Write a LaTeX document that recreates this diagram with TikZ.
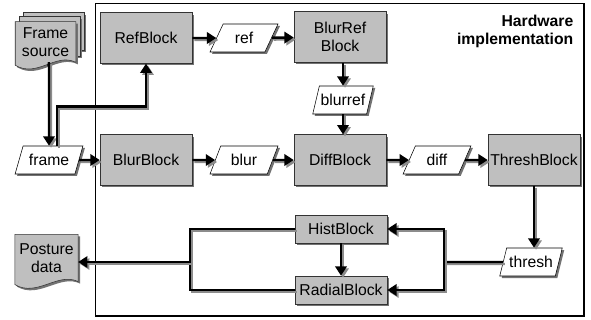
\documentclass[tikz,border=0pt]{standalone}
\usepackage{fontspec}
\setmainfont{Liberation Sans}
\usetikzlibrary{shapes.geometric, arrows.meta, shadows, backgrounds, calc}

\tikzset{
    shade/.style={drop shadow={shadow xshift=1.5pt, shadow yshift=-1.5pt, fill=black!55, opacity=1}},
    block/.style={draw=black!80, fill=black!25, shade, minimum width=69pt,
        inner sep=1pt, align=center, font=\fontsize{11.8}{13.5}\selectfont},
    data/.style={trapezium, trapezium left angle=65, trapezium right angle=115,
        trapezium stretches=true, draw=black, fill=white, shade,
        minimum width=51pt, minimum height=21pt, inner sep=1pt,
        font=\fontsize{11.8}{13.5}\selectfont},
    doc/.style={minimum width=45pt, inner sep=0pt, align=center,
        font=\fontsize{11.8}{13.5}\selectfont},
    page/.style={draw=black!80, fill=black!25, shade},
    wire/.style={line width=1.8pt,
        preaction={draw=black!45, line width=1.6pt, transform canvas={shift={(1.5pt,-1.5pt)}}}},
    flow/.style={wire, -{Triangle[length=7pt,width=8.5pt]}}
}

% document outline with a wavy bottom
\newcommand{\docpath}[1]{%
    (#1.north west) -- (#1.north east) -- (#1.south east)
    .. controls ($(#1.south east)+(-20,-10)$) and ($(#1.south west)+(22,16)$) .. ($(#1.south west)+(0,3)$) -- cycle}

\begin{document}
\begin{tikzpicture}[x=0.75pt, y=-0.75pt]
\useasboundingbox (0,0) rectangle (591,320);

% Hardware box
\node[draw, line width=0.8pt, minimum width=366.4pt, minimum height=234.4pt] (hw) at (339.75,159.75) {};
\node[anchor=north east, align=right, font=\fontsize{11.8}{13.5}\selectfont\bfseries] (title) at (578,10) {Hardware\\implementation};

% -------------------------
% Blocks and data
% -------------------------
\node[block, minimum height=38pt] (ref) at (146,38) {RefBlock};
\node[data] (refData) at (244,38) {ref};
\node[block, minimum height=38pt] (blurref) at (340,37) {BlurRef\\Block};
\node[data, minimum width=45pt] (blurrefData) at (343,100) {blurref};

\node[data] (frame) at (49,160) {frame};
\node[block, minimum height=38pt] (blur) at (146,160) {BlurBlock};
\node[data] (blurData) at (244,160) {blur};
\node[block, minimum height=38pt] (diff) at (340,160) {DiffBlock};
\node[data] (diffData) at (437,160) {diff};
\node[block, minimum height=38pt] (thresh) at (534,160) {ThreshBlock};
\node[data, minimum width=47pt] (threshData) at (531,262) {thresh};

\node[block, minimum height=21pt] (hist) at (341,229) {HistBlock};
\node[block, minimum height=21pt] (radial) at (341,290) {RadialBlock};

% Documents
\node[doc, minimum height=30pt] (source) at (45.5,42) {Frame\\source};
\node[doc, minimum width=47pt, minimum height=35pt] (posture) at (46.5,258) {Posture\\data};

\begin{scope}[on background layer]
    \draw[page] ($(source.north west)+(8,-9)$) rectangle ($(source.south east)+(8,-12)$);
    \draw[page] ($(source.north west)+(4,-5)$) rectangle ($(source.south east)+(4,-6)$);
    \draw[page] \docpath{source};
    \draw[page] \docpath{posture};
\end{scope}

% -------------------------
% Connections
% -------------------------
\coordinate (split) at (444,262);
\coordinate (merge) at (190,262);

\draw[flow] (ref) -- (refData);
\draw[flow] (refData) -- (blurref);
\draw[flow] (blurref.south -| blurrefData.north) -- (blurrefData.north);
\draw[flow] (blurrefData.south) -- (blurrefData.south |- diff.north);

\draw[flow] ($(source.south)+(3,4)$) -- (source.south -| frame.north) -- (frame.north);
\draw[flow] ([xshift=6pt]frame.north) |- ($(ref.south)+(0,43)$) -- (ref.south);

\draw[flow] (frame) -- (blur);
\draw[flow] (blur) -- (blurData);
\draw[flow] (blurData) -- (diff);
\draw[flow] (diff) -- (diffData);
\draw[flow] (diffData) -- (thresh);
\draw[flow] (thresh.south) -- (thresh.south |- threshData.north);

\draw[wire] (threshData.west) -- (split);
\draw[flow] (split) |- (hist.east);
\draw[flow] (split) |- (radial.east);
\draw[flow] (hist) -- (radial);

\draw[wire] (hist.west) -| (merge);
\draw[wire] (radial.west) -| (merge);
\draw[flow] (merge) -- (merge -| posture.east);

\end{tikzpicture}
\end{document}
